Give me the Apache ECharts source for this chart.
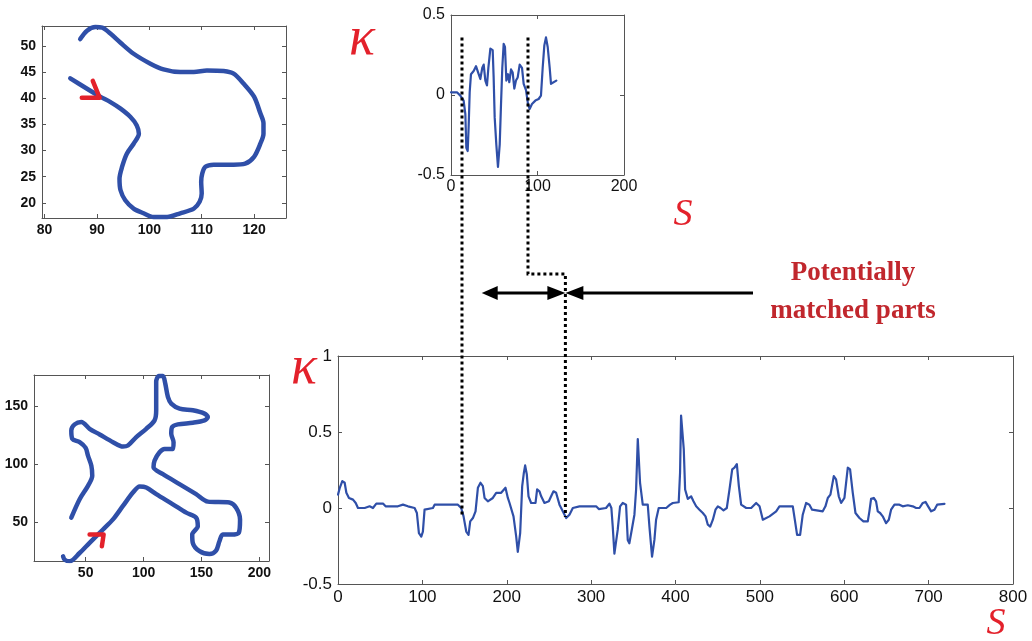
<!DOCTYPE html>
<html><head><meta charset="utf-8">
<script src="https://cdn.jsdelivr.net/npm/echarts@6/dist/echarts.min.js"></script>
<style>html,body{margin:0;padding:0;background:#fff}#c{width:1032px;height:641px}</style>
</head><body><div id="c"></div><script>
// ---- data ----
const shapeTop = [[86.8,51.3],[88.1,52.9],[89.7,53.6],[91,53.5],[92.5,52.4],[94.5,50.6],[97,48.5],[100.2,46.6],[102.7,45.5],[105.9,45],[108.5,45],[111,45.3],[114.2,45.2],[116.1,44.7],[118,42.8],[120,40.3],[121.2,37.1],[121.8,35.2],[121.8,33.2],[121.2,31.3],[120,28.8],[118.3,27.5],[116.1,27.3],[112.3,27.3],[110.7,26.9],[110.1,25.6],[109.9,24],[110,21.8],[109.6,20.2],[108.5,18.9],[105.9,18],[103.4,17.3],[100.8,17.3],[98.9,18],[97,18.9],[95.4,20.5],[94.5,22.4],[94.3,24.6],[94.8,26.9],[95.7,29.4],[97,31.3],[98,33.2],[97.6,34.8],[96.4,36.4],[94.5,38],[92.5,39.3],[90.6,40.3],[88.1,41.8],[84.9,43.8]];
const arrowTop = [[87.1,40.1],[90.5,40.1],[89.2,43.3]];
const shapeBottom = [[37.6,53.8],[44.8,69.7],[52,81.2],[55.7,89.9],[54.9,98.6],[52,107.2],[50,113.9],[44.8,118.8],[38.5,121.7],[37.6,128.9],[40.5,134.1],[46.3,136.1],[53.4,130.3],[62.1,125.4],[73.6,118.8],[82.2,115],[86.5,115.9],[93.7,123.1],[102.3,130.3],[109.5,137.6],[110.9,146.2],[110.9,157.8],[110.9,170.8],[113.2,175.7],[116.7,175.7],[118.7,169.4],[121,157.8],[123.9,152],[131.1,147.7],[142.5,146.2],[152.6,143.4],[155.5,140.5],[152.6,137.6],[142.5,135.5],[129.6,134.1],[124.7,131.8],[123.9,126],[125.9,118.8],[125.3,113],[118.1,113],[113.8,110.1],[109.5,102.9],[108.6,97.1],[116.7,91.3],[131,82.7],[145.4,74],[155.5,67.6],[174.1,66.8],[179.9,62.4],[183.3,52.3],[182.2,40.8],[175.6,39.3],[168.4,39.3],[165.5,33.5],[162.6,25.4],[156.9,22.5],[148.3,24.9],[142.5,32.1],[142,39.3],[146.8,46.5],[145.4,53.8],[136.8,58.1],[125.3,65.3],[111,74],[102.3,79.8],[96.6,80.6],[90.8,75.4],[82.2,63.9],[73.6,52.3],[65,43.6],[53.4,32.1],[44.8,23.4],[36.2,16.2],[31.9,17.6],[30.5,20.5]];
const arrowBottom = [[53.4,39.3],[65.5,39.3],[64,29.2]];
const kappaTop = [[0,0.017],[6.9,0.017],[10.8,-0.004],[14.6,-0.035],[16.6,-0.12],[17.7,-0.33],[19.3,-0.35],[20.4,-0.2],[21.6,0.017],[23.1,0.13],[26.2,0.15],[28.9,0.18],[32,0.13],[33.9,0.1],[36.2,0.17],[37.8,0.19],[39.7,0.09],[41.6,0.06],[43.2,0.17],[45.5,0.29],[48.2,0.28],[49.3,0.11],[50.5,-0.14],[52.4,-0.31],[54.3,-0.45],[56.3,-0.31],[57.8,-0.06],[59.3,0.17],[60.9,0.32],[62.4,0.3],[64,0.09],[65.9,0.13],[67.4,0.08],[69.4,0.16],[71.3,0.14],[73.2,0.04],[75.1,0.09],[77.1,0.11],[79.4,0.19],[82.1,0.17],[84,0.07],[86.7,0.03],[89,-0.056],[90.9,-0.087],[93.6,-0.056],[97.5,-0.035],[101.3,-0.025],[104,-0.004],[106,0.17],[107.9,0.31],[109.8,0.36],[111.8,0.3],[114.1,0.17],[115.6,0.07],[117.9,0.07],[121.8,0.09]];
const kappaBottom = [[0,0.088],[2,0.13],[5.1,0.177],[7.9,0.166],[9.9,0.1],[13,0.066],[17.8,0.055],[21,0.033],[23.7,0],[31.6,0],[37.5,0.011],[41.4,0],[45.4,0.029],[53.3,0.029],[56.4,0.011],[71,0.011],[77,0.022],[82.9,0.011],[90.8,0],[93.5,-0.033],[95.9,-0.166],[98.7,-0.188],[100.6,-0.155],[102.6,-0.011],[112.5,0],[114.5,0.022],[142.1,0.022],[146,0],[148.8,-0.055],[152,-0.155],[154.7,-0.177],[156.7,-0.088],[159.9,-0.066],[163,-0.022],[165.8,0.133],[168.9,0.166],[171.7,0.144],[173.7,0.066],[177.6,0.044],[183.5,0.066],[187.5,0.1],[193.4,0.1],[198.5,0.133],[201.3,0.066],[203.3,0.033],[208,-0.055],[211.2,-0.188],[213.1,-0.288],[215.9,-0.166],[218.3,0.144],[220.3,0.232],[221.8,0.28],[223.8,0.22],[225.8,0.077],[228.9,0.033],[234.1,0.033],[236,0.122],[238.8,0.11],[240.8,0.077],[244.7,0.033],[249.9,0.044],[252.6,0.077],[255.4,0.11],[258.5,0.1],[262.5,0.022],[266.4,-0.022],[270.4,-0.066],[274.3,-0.044],[278.3,0],[286.2,0.011],[305.9,0.011],[309.1,-0.007],[317.7,0],[321.7,0.029],[324,0],[325.6,-0.122],[327.6,-0.3],[329.6,-0.3],[331.5,-0.144],[334.3,0.011],[337.5,0.033],[341.4,0.022],[343.4,-0.21],[345.3,-0.232],[348.5,-0.133],[351.3,-0.044],[353.3,0.122],[355.3,0.454],[357.2,0.454],[358,0.166],[361.2,0.022],[367.1,0.022],[369.1,-0.122],[372.2,-0.32],[375,-0.21],[377,-0.077],[380.1,0],[389,0],[393.6,0.022],[396.8,0.033],[403.8,0.038],[405.4,0.232],[406.6,0.608],[408.6,0.608],[409.8,0.387],[411.4,0.122],[414.6,0.06],[418.5,0.077],[421.3,0.044],[424.5,0.011],[428.4,-0.011],[432.4,-0.033],[435.6,-0.055],[438.3,-0.11],[441.1,-0.122],[444.3,-0.077],[447.4,-0.011],[450.2,0.011],[453.4,0],[456.9,-0.015],[460.8,0],[464,0.122],[467.2,0.254],[469.9,0.265],[472.7,0.288],[475.1,0.144],[477.8,0.022],[483.8,0],[489.7,0],[495.6,0.033],[499.6,0.011],[503.5,-0.077],[511.4,-0.055],[519.3,-0.022],[523.2,0.011],[539,0.011],[541.4,-0.077],[544.1,-0.177],[547.7,-0.177],[550.8,-0.044],[554.8,0.033],[558.7,0.022],[561.9,-0.011],[574.5,-0.022],[577.7,0.011],[580.5,0.066],[583.6,0.088],[587.6,0.21],[590.3,0.188],[593.5,0.077],[596.3,0.033],[600.2,0.066],[604.2,0.265],[606.9,0.254],[610.1,0.1],[613.3,-0.033],[618,-0.066],[622.7,-0.088],[627.9,-0.088],[629.8,-0.022],[631.8,0.06],[635,0.066],[637.7,0.044],[639.7,-0.022],[642.5,-0.033],[645.6,-0.055],[649.6,-0.1],[652.8,-0.077],[655.5,-0.011],[659.5,0.022],[665.4,0.022],[669.3,0.011],[675.3,0.018],[681.2,0.011],[685.2,0],[689.1,0],[693.1,0.033],[696.3,0.04],[699.4,0.011],[703,-0.022],[706.9,-0.011],[710.1,0.022],[718.8,0.027]];
// matched segment boundaries (S on top curve, S on bottom curve)
const matchTopS = [12.7, 89];
const matchBottomS = [146.3, 269.5];
const matchStartK = 0.36;
const matchEndK = [-0.05, -0.06];
// tick labels
const ticksTopLeftX = [80, 90, 100, 110, 120];
const ticksTopLeftY = [20, 25, 30, 35, 40, 45, 50];
const ticksBotLeftX = [50, 100, 150, 200];
const ticksBotLeftY = [50, 100, 150];

const BLUE = '#2f4fa8', RED = '#e3212b', AX = '#555';
const chart = echarts.init(document.getElementById('c'), null, {renderer: 'canvas'});

function axisPair(kind, grid, min, max, opt) {
  const main = {
    type: 'value', gridIndex: grid, min: min, max: max,
    position: kind === 'x' ? 'bottom' : 'left',
    axisLine: {show: true, onZero: false, lineStyle: {color: AX, width: 1}},
    axisTick: {show: true, inside: true, length: 4, lineStyle: {color: AX}},
    axisLabel: {color: '#111', fontFamily: 'Liberation Sans, Arial', fontSize: opt.fs, fontWeight: opt.fw, margin: opt.margin},
    splitLine: {show: false}
  };
  const mirror = {
    type: 'value', gridIndex: grid, min: min, max: max,
    position: kind === 'x' ? 'top' : 'right',
    axisLine: {show: true, onZero: false, lineStyle: {color: AX, width: 1}},
    axisTick: {show: true, inside: true, length: 4, lineStyle: {color: AX}},
    axisLabel: {show: false},
    splitLine: {show: false}
  };
  if (opt.ticks) {
    main.axisTick.customValues = opt.ticks; main.axisLabel.customValues = opt.ticks;
    mirror.axisTick.customValues = opt.ticks;
  } else {
    main.interval = opt.interval; mirror.interval = opt.interval;
  }
  if (opt.fmt) main.axisLabel.formatter = opt.fmt;
  return [main, mirror];
}

const xAxes = [].concat(
  axisPair('x', 0, 79.5, 126.1, {ticks: ticksTopLeftX, fs: 14, fw: 'bold', margin: 5}),
  axisPair('x', 1, 5.4, 208.3, {ticks: ticksBotLeftX, fs: 14, fw: 'bold', margin: 5}),
  axisPair('x', 2, 0, 200, {interval: 100, fs: 16, fw: 'normal', margin: 4}),
  axisPair('x', 3, 0, 800, {interval: 100, fs: 17, fw: 'normal', margin: 5})
);
const kfmt = v => (v === 0 ? '0' : String(v));
const yAxes = [].concat(
  axisPair('y', 0, 17.1, 53.8, {ticks: ticksTopLeftY, fs: 14, fw: 'bold', margin: 6}),
  axisPair('y', 1, 16.5, 176.6, {ticks: ticksBotLeftY, fs: 14, fw: 'bold', margin: 6}),
  axisPair('y', 2, -0.5, 0.5, {interval: 0.5, fs: 16, fw: 'normal', margin: 6, fmt: kfmt}),
  axisPair('y', 3, -0.5, 1, {interval: 0.5, fs: 17, fw: 'normal', margin: 6, fmt: kfmt})
);

function lineSeries(g, data, color, width, smooth) {
  return {type: 'line', xAxisIndex: 2 * g, yAxisIndex: 2 * g, data: data, showSymbol: false, symbol: 'none',
    smooth: smooth || false, lineStyle: {color: color, width: width, cap: 'round', join: 'round'},
    animation: false, silent: true, clip: true};
}

chart.setOption({
  animation: false,
  backgroundColor: '#fff',
  grid: [
    {left: 42, top: 26, width: 244, height: 192},
    {left: 34, top: 375, width: 235, height: 186},
    {left: 451, top: 15, width: 173, height: 160},
    {left: 338, top: 356, width: 675, height: 228}
  ],
  xAxis: xAxes,
  yAxis: yAxes,
  series: [
    lineSeries(0, shapeTop, BLUE, 4.5, 0.3),
    lineSeries(0, arrowTop, RED, 4.5, false),
    lineSeries(1, shapeBottom, BLUE, 4.5, 0.3),
    lineSeries(1, arrowBottom, RED, 4.5, false),
    lineSeries(2, kappaTop, BLUE, 2.2, false),
    lineSeries(3, kappaBottom, BLUE, 2.2, false)
  ]
});

// ---- annotations, placed from data coordinates ----
const a1 = chart.convertToPixel({gridIndex: 2}, [matchTopS[0], matchStartK]);
const a2 = chart.convertToPixel({gridIndex: 3}, [matchBottomS[0], matchEndK[0]]);
const b1 = chart.convertToPixel({gridIndex: 2}, [matchTopS[1], matchStartK]);
const b2 = chart.convertToPixel({gridIndex: 3}, [matchBottomS[1], matchEndK[1]]);
const elbowY = 274, arrowY = 293;
const leftTip = 481.7, rightEnd = 753;
const dotStyle = {stroke: '#000', lineWidth: 3, lineDash: [3, 3], fill: null};
const arrowFill = {fill: '#000'};
const hl = 16, hh = 7;
const kFont = 'italic 54px "Liberation Serif", "Times New Roman", serif';
const sFont = 'italic 38px "Liberation Serif", "Times New Roman", serif';
const graphics = [
  {type: 'polyline', z: 100, shape: {points: [[a1[0], a1[1]], [a1[0], a2[1]]]}, style: dotStyle},
  {type: 'polyline', z: 100, shape: {points: [[b1[0], b1[1]], [b1[0], elbowY], [b2[0], elbowY], [b2[0], b2[1]]]}, style: dotStyle},
  {type: 'line', z: 100, shape: {x1: leftTip + hl - 2, y1: arrowY, x2: b2[0] - hl + 2, y2: arrowY}, style: {stroke: '#000', lineWidth: 3}},
  {type: 'polygon', z: 100, shape: {points: [[leftTip, arrowY], [leftTip + hl, arrowY - hh], [leftTip + hl, arrowY + hh]]}, style: arrowFill},
  {type: 'polygon', z: 100, shape: {points: [[b2[0], arrowY], [b2[0] - hl - 2, arrowY - hh], [b2[0] - hl - 2, arrowY + hh]]}, style: arrowFill},
  {type: 'polygon', z: 100, shape: {points: [[b2[0], arrowY], [b2[0] + hl + 2, arrowY - hh], [b2[0] + hl + 2, arrowY + hh]]}, style: arrowFill},
  {type: 'line', z: 100, shape: {x1: b2[0] + hl, y1: arrowY, x2: rightEnd, y2: arrowY}, style: {stroke: '#000', lineWidth: 3}},
  {type: 'text', z: 100, x: 853, y: 292, style: {text: 'Potentially\nmatched parts', fill: '#c1272d', font: 'bold 27px "Liberation Serif", "Times New Roman", serif', lineHeight: 38, textAlign: 'center', textVerticalAlign: 'middle'}},
  {type: 'text', z: 100, x: 362, y: 40, style: {text: 'κ', fill: RED, font: kFont, textAlign: 'center', textVerticalAlign: 'middle'}},
  {type: 'text', z: 100, x: 304, y: 369, style: {text: 'κ', fill: RED, font: kFont, textAlign: 'center', textVerticalAlign: 'middle'}},
  {type: 'text', z: 100, x: 683, y: 215, style: {text: 'S', fill: RED, font: sFont, textAlign: 'center', textVerticalAlign: 'middle'}},
  {type: 'text', z: 100, x: 996, y: 624, style: {text: 'S', fill: RED, font: sFont, textAlign: 'center', textVerticalAlign: 'middle'}}
];
chart.setOption({graphic: graphics});
</script></body></html>
